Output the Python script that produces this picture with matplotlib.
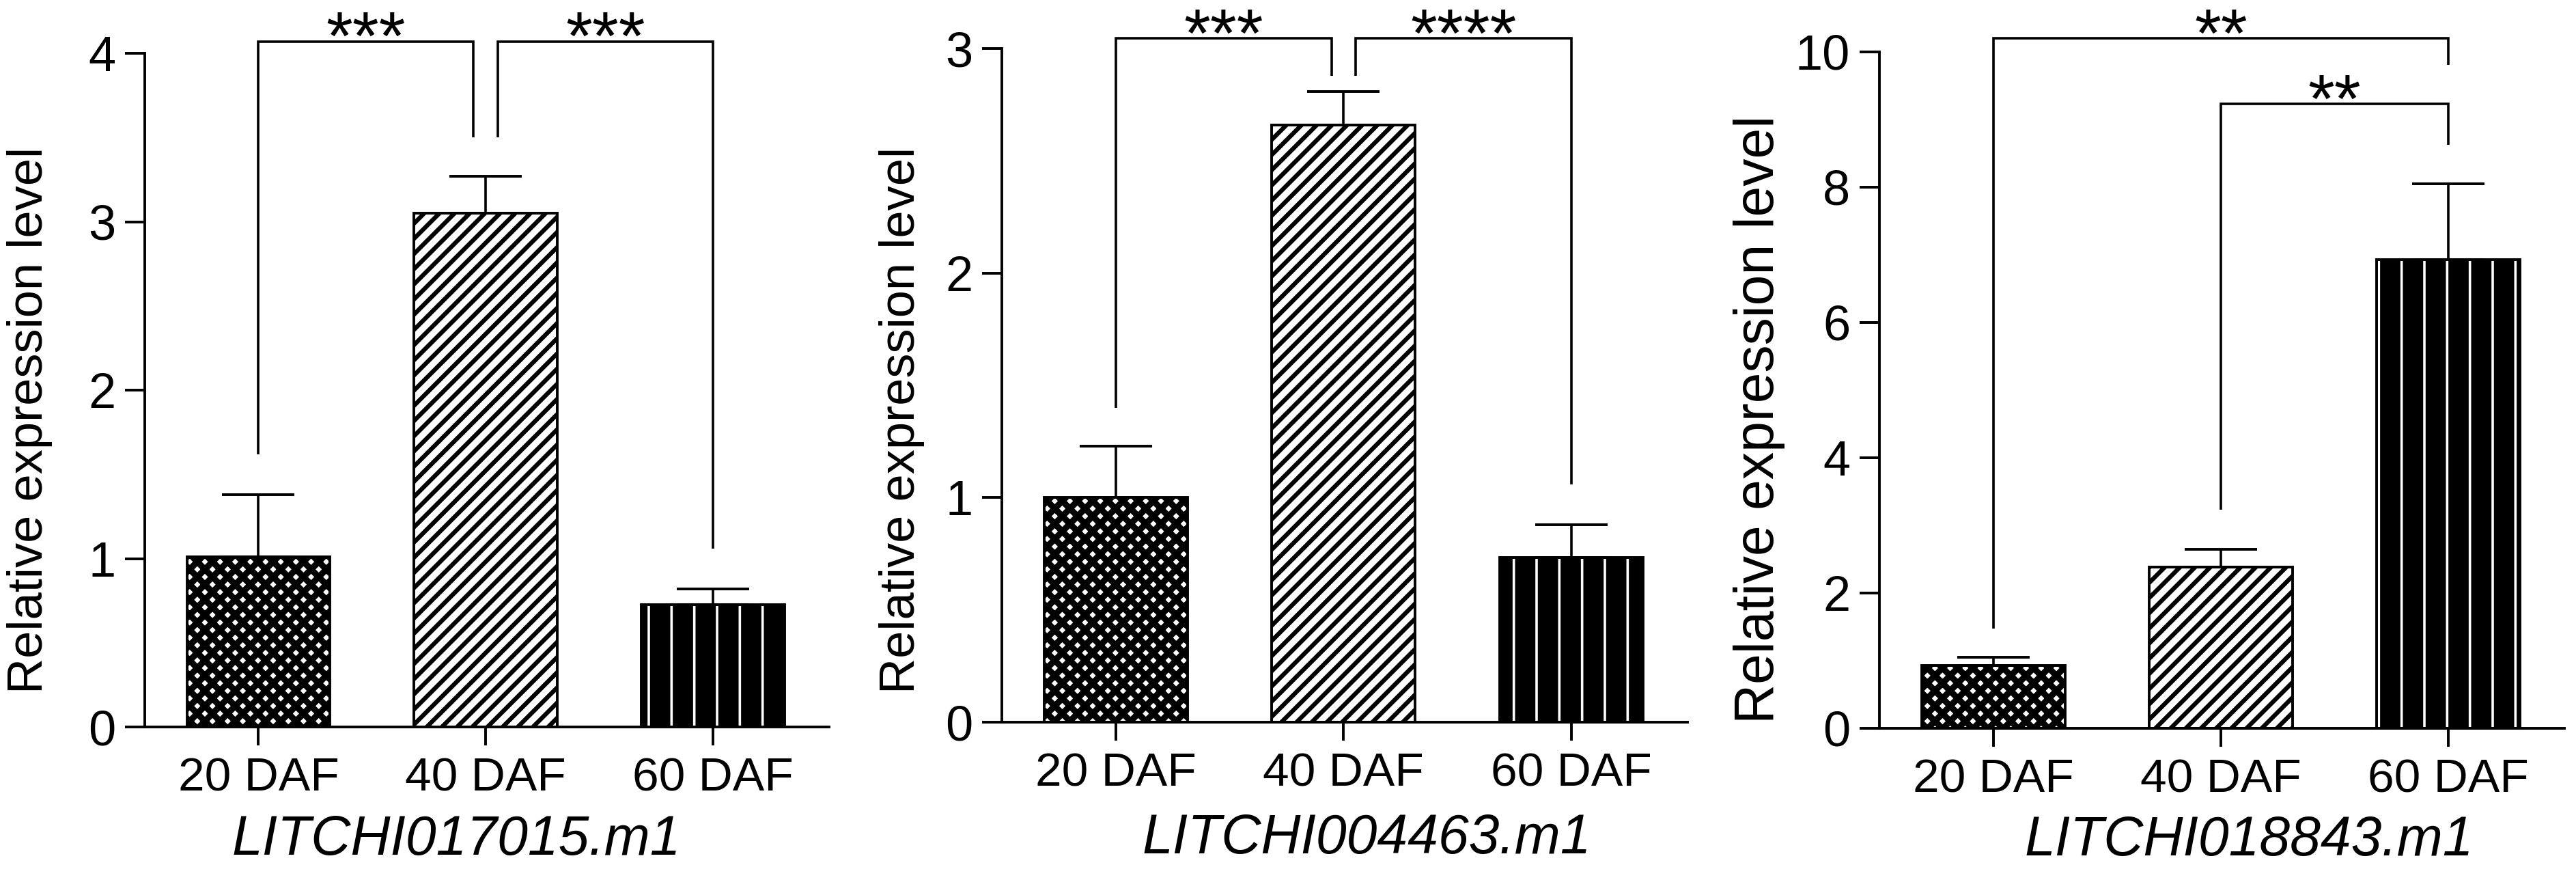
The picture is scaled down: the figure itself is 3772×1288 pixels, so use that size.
import numpy as np
import matplotlib
matplotlib.use("Agg")
import matplotlib.pyplot as plt

# -----------------------------
# Data
# -----------------------------
stages = ["20 DAF", "40 DAF", "60 DAF"]

genes = ["LITCHI017015.m1", "LITCHI004463.m1", "LITCHI018843.m1"]

mean_017015 = [1.01, 3.05, 0.725]
err_017015 = [0.37, 0.22, 0.095]

mean_004463 = [1.00, 2.66, 0.735]
err_004463 = [0.23, 0.15, 0.145]

mean_018843 = [0.93, 2.38, 6.93]
err_018843 = [0.12, 0.27, 1.12]

yticks_017015 = [0, 1, 2, 3, 4]
yticks_004463 = [0, 1, 2, 3]
yticks_018843 = [0, 2, 4, 6, 8, 10]

# significance brackets: left x, right x, top y, left leg end, right leg end, label
br_017015 = dict(x1=[0, 1.053], x2=[0.944, 2], top=[4.07, 4.07],
                 y1=[1.62, 3.5], y2=[3.5, 1.06], label=["***", "***"])
br_004463 = dict(x1=[0, 1.053], x2=[0.948, 2], top=[3.045, 3.045],
                 y1=[1.40, 2.88], y2=[2.88, 1.06], label=["***", "****"])
br_018843 = dict(x1=[0, 1], x2=[2, 2], top=[10.2, 9.23],
                 y1=[1.47, 3.23], y2=[9.81, 8.63], label=["**", "**"])


def hatch_lw(artists, value):
    # hatch line width is read at draw time, so wrap draw per artist
    for a in artists:
        if hasattr(a, "set_hatch_linewidth"):
            a.set_hatch_linewidth(value)
        orig = a.draw

        def draw(renderer, _orig=orig):
            with plt.rc_context({"hatch.linewidth": value}):
                _orig(renderer)
        a.draw = draw


# -----------------------------
# Figure
# -----------------------------
plt.rcParams["font.family"] = ["Liberation Sans", "DejaVu Sans"]

fig = plt.figure(figsize=(18.86, 6.44), dpi=200)

panels = [
    dict(gene=genes[0], mean=mean_017015, err=err_017015, yt=yticks_017015,
         br=br_017015, rect=[0.0562, 0.1739, 0.2656, 0.7655],
         ylab=(-0.135, 0.455, 26), tlab=(0.455, -0.13)),
    dict(gene=genes[1], mean=mean_004463, err=err_004463, yt=yticks_004463,
         br=br_004463, rect=[0.3889, 0.1793, 0.2662, 0.7655],
         ylab=(-0.112, 0.448, 26), tlab=(0.532, -0.135)),
    dict(gene=genes[2], mean=mean_018843, err=err_018843, yt=yticks_018843,
         br=br_018843, rect=[0.7296, 0.1724, 0.2659, 0.7686],
         ylab=(-0.138, 0.457, 29), tlab=(0.540, -0.128)),
]

lw = 1.4
bar_w = 0.63

for p in panels:
    ax = fig.add_axes(p["rect"])
    x = np.arange(len(stages))

    # 20 DAF: dense thick cross hatch -> small white dots on black
    b0 = ax.bar(x[0], p["mean"][0], width=bar_w, facecolor="white",
                edgecolor="black", hatch="xxx", linewidth=lw, zorder=2)
    hatch_lw(b0, 3.3)
    # 40 DAF: diagonal lines
    b1 = ax.bar(x[1], p["mean"][1], width=bar_w, facecolor="white",
                edgecolor="black", hatch="///", linewidth=lw, zorder=2)
    hatch_lw(b1, 2.3)
    # 60 DAF: black with thin white vertical lines
    b2 = ax.bar(x[2], p["mean"][2], width=bar_w, facecolor="black",
                edgecolor="white", hatch="|", linewidth=0, zorder=2)
    hatch_lw(b2, 1.3)
    ax.bar(x[2], p["mean"][2], width=bar_w, fill=False,
           edgecolor="black", linewidth=lw, zorder=2.5)

    ax.errorbar(x, p["mean"], yerr=[np.zeros(3), p["err"]], fmt="none",
                ecolor="black", elinewidth=1.3, capsize=19, capthick=1.4,
                zorder=3)

    # brackets
    br = p["br"]
    for x1, x2, top, y1, y2, lab in zip(br["x1"], br["x2"], br["top"],
                                        br["y1"], br["y2"], br["label"]):
        ax.plot([x1, x1, x2, x2], [y1, top, top, y2], color="black",
                linewidth=1.3, clip_on=False, solid_capstyle="butt",
                solid_joinstyle="miter", zorder=4)
        ax.annotate(lab, xy=((x1 + x2) / 2, top), xytext=(0, -9.5),
                    textcoords="offset points", ha="center", va="baseline",
                    fontsize=36, annotation_clip=False)

    ax.set_xlim(-0.5, 2.51)
    ax.set_ylim(p["yt"][0], p["yt"][-1])
    ax.set_yticks(p["yt"])
    ax.set_xticks(x)
    ax.set_xticklabels(stages)

    for s in ["top", "right"]:
        ax.spines[s].set_visible(False)
    for s in ["left", "bottom"]:
        ax.spines[s].set_linewidth(lw)

    ax.tick_params(axis="y", length=10.4, width=lw, pad=5, labelsize=26)
    ax.tick_params(axis="x", length=9.7, width=lw, pad=6, labelsize=25)

    ax.set_ylabel("Relative expression level", fontsize=p["ylab"][2])
    ax.yaxis.set_label_coords(p["ylab"][0], p["ylab"][1])
    ax.set_xlabel(p["gene"], fontsize=29, style="italic", va="top")
    ax.xaxis.set_label_coords(p["tlab"][0], p["tlab"][1])

fig.savefig("out.png", dpi=200, facecolor="white")
